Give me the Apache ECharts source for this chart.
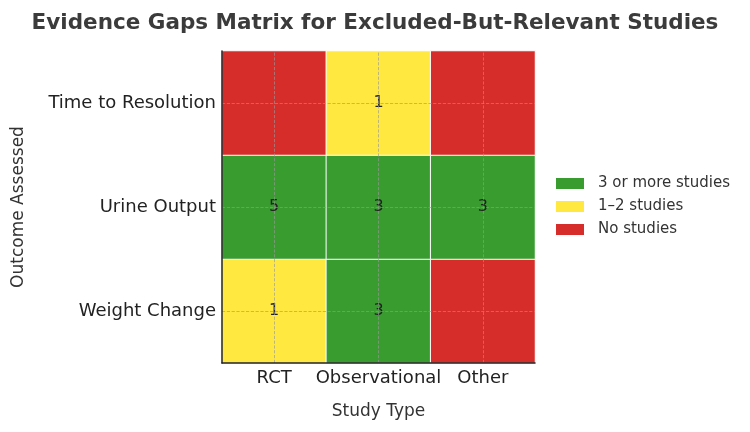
<!DOCTYPE html>
<html>
<head>
<meta charset="utf-8">
<script src="https://cdn.jsdelivr.net/npm/echarts@6/dist/echarts.min.js"></script>
<style>
  html, body { margin: 0; padding: 0; background: #fff; }
  #chart { width: 750px; height: 432px; }
</style>
</head>
<body>
<div id="chart"></div>
<script>
// study types (columns) and outcomes (rows, bottom to top)
var studyTypes = ['RCT', 'Observational', 'Other'];
var outcomes = ['Weight Change', 'Urine Output', 'Time to Resolution'];

// number of studies per outcome, one array per row
var weightChange = [1, 3, 0];
var urineOutput = [5, 3, 3];
var timeToResolution = [0, 1, 0];

var rows = [weightChange, urineOutput, timeToResolution];
var cells = [];
rows.forEach(function (row, y) {
  row.forEach(function (v, x) {
    cells.push([x, y, v]);
  });
});

var GREEN = '#389c2f';
var YELLOW = '#ffe941';
var RED = '#d62d2a';

var myChart = echarts.init(document.getElementById('chart'));
myChart.setOption({
  backgroundColor: '#fff',
  animation: false,
  title: {
    text: 'Evidence Gaps Matrix for Excluded-But-Relevant Studies',
    left: 'center',
    top: 7,
    textStyle: {
      fontFamily: 'DejaVu Sans',
      fontSize: 21.5,
      fontWeight: 'bold',
      color: '#3b3b3b'
    }
  },
  grid: {
    left: 222,
    right: 215,
    top: 51,
    bottom: 69,
    containLabel: false
  },
  xAxis: {
    type: 'category',
    data: studyTypes,
    z: 10,
    name: 'Study Type',
    nameLocation: 'middle',
    nameGap: 40,
    nameTextStyle: { fontFamily: 'DejaVu Sans', fontSize: 17, color: '#333' },
    axisLine: { show: true, onZero: false, lineStyle: { color: '#222', width: 1.5 } },
    axisTick: { show: false },
    axisLabel: { interval: 0, fontFamily: 'DejaVu Sans', fontSize: 18, color: '#222', margin: 6 },
    splitLine: { show: false }
  },
  yAxis: {
    type: 'category',
    data: outcomes,
    z: 10,
    name: 'Outcome Assessed',
    nameLocation: 'middle',
    nameGap: 195,
    nameTextStyle: { fontFamily: 'DejaVu Sans', fontSize: 17, color: '#333' },
    axisLine: { show: true, onZero: false, lineStyle: { color: '#222', width: 1.5 } },
    axisTick: { show: false },
    axisLabel: { interval: 0, fontFamily: 'DejaVu Sans', fontSize: 18, color: '#222', margin: 6 },
    splitLine: { show: false }
  },
  visualMap: {
    type: 'piecewise',
    dimension: 2,
    orient: 'vertical',
    align: 'left',
    left: 556,
    top: 176,
    padding: 0,
    itemWidth: 28,
    itemHeight: 11,
    itemGap: 8,
    itemSymbol: 'rect',
    textGap: 14,
    selectedMode: false,
    textStyle: { fontFamily: 'DejaVu Sans', fontSize: 15, color: '#333' },
    pieces: [
      { gte: 3, label: '3 or more studies', color: GREEN },
      { gte: 1, lte: 2, label: '1–2 studies', color: YELLOW },
      { value: 0, label: 'No studies', color: RED }
    ]
  },
  series: [{
    type: 'heatmap',
    data: cells,
    itemStyle: { borderColor: '#fff', borderWidth: 1 },
    label: {
      show: true,
      fontFamily: 'DejaVu Sans',
      fontSize: 16,
      color: '#222',
      formatter: function (p) { return p.value[2] > 0 ? String(p.value[2]) : ''; }
    },
    markLine: {
      silent: true,
      symbol: 'none',
      label: { show: false },
      lineStyle: { color: '#999', type: 'dashed', width: 0.8, opacity: 0.8 },
      data: studyTypes.map(function (s) { return { xAxis: s }; })
        .concat(outcomes.map(function (o) { return { yAxis: o }; }))
    }
  }]
});
</script>
</body>
</html>
